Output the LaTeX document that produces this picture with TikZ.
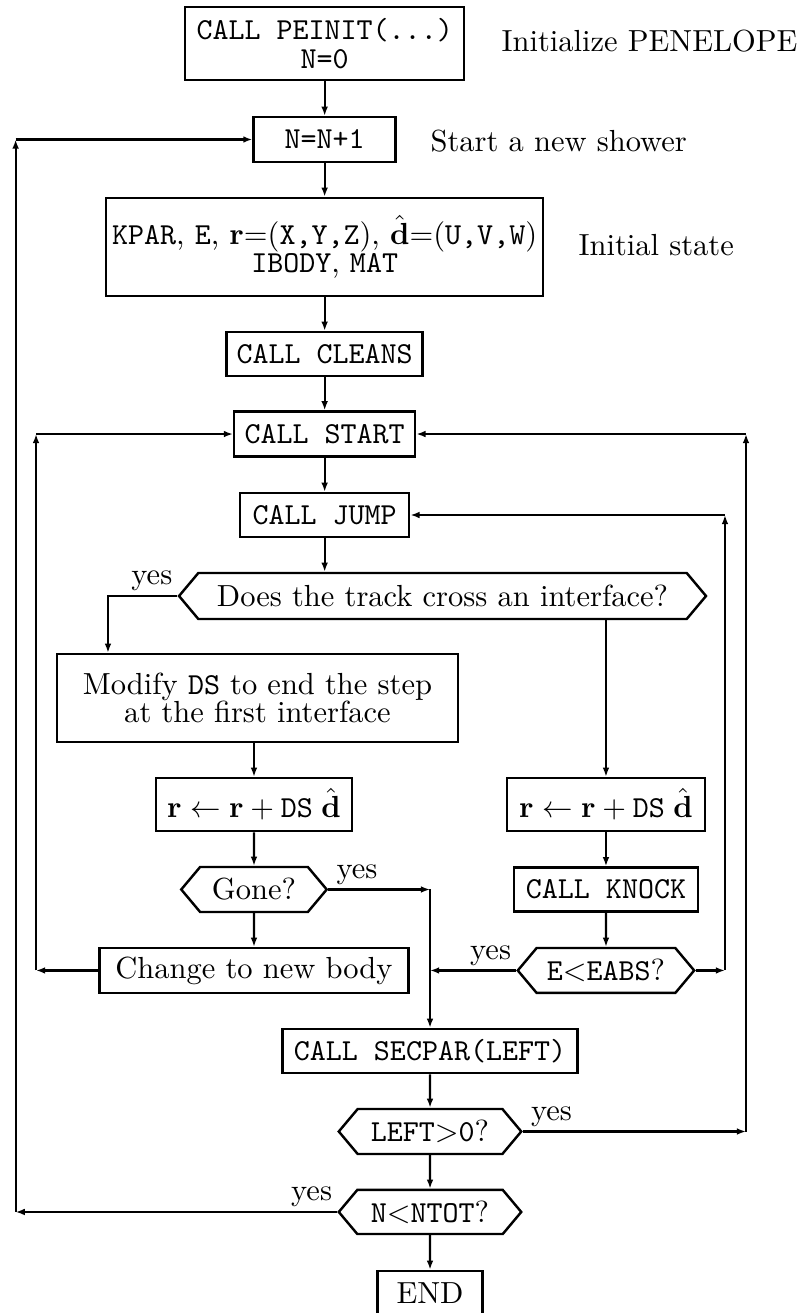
\documentclass[tikz,border=0pt]{standalone}
\usepackage{tikz}
\usetikzlibrary{positioning,shapes.symbols,arrows.meta}

\tikzset{
  box/.style={draw, line width=0.8pt, inner xsep=2pt, inner ysep=1pt, align=center},
  query/.style={draw, line width=0.8pt, signal, signal to=west and east, signal pointer angle=100,
    inner xsep=1pt, inner ysep=1pt, align=center},
  flow/.style={-{Latex[length=3pt,width=2.2pt]}, line width=0.7pt},
  yes/.style={inner sep=1.5pt},
  note/.style={anchor=base west, inner sep=0pt}
}

\begin{document}
\begin{tikzpicture}[every node/.style={font=\fontsize{10}{9.3}\selectfont}]
    \useasboundingbox (0,0) rectangle (9.331,-15.126);

    % main column
    \node[box, minimum width=3.214cm, minimum height=0.841cm] (peinit) at (3.74,-0.501)
        {\texttt{CALL PEINIT(...)}\\\texttt{N=0}};
    \node[note] (initnote) at (5.772,-0.596) {Initialize PENELOPE};
    \node[box, minimum width=1.636cm, minimum height=0.518cm] (newn) at (3.74,-1.607) {\texttt{N=N+1}};
    \node[note] (shownote) at (4.954,-1.747) {Start a new shower};
    \node[box, minimum width=5.023cm, minimum height=1.129cm] (state) at (3.74,-2.845)
        {\texttt{KPAR}, \texttt{E}, $\mathbf{r}{=}($\texttt{X,Y,Z}$)$, $\hat{\mathbf{d}}{=}($\texttt{U,V,W}$)$\\\texttt{IBODY}, \texttt{MAT}};
    \node[note] (statenote) at (6.659,-2.938) {Initial state};
    \node[box, minimum width=2.258cm, minimum height=0.507cm] (cleans) at (3.74,-4.078) {\texttt{CALL CLEANS}};
    \node[box, minimum width=2.085cm, minimum height=0.518cm] (start) at (3.74,-5.000) {\texttt{CALL START}};
    \node[box, minimum width=1.947cm, minimum height=0.507cm] (jump) at (3.74,-5.933) {\texttt{CALL JUMP}};
    \node[query, minimum width=6.071cm, minimum height=0.530cm] (cross) at (5.098,-6.866)
        {Does the track cross an interface?};

    % crossing branch
    \node[box, minimum width=4.620cm, minimum height=1.014cm] (modify) at (2.966,-8.041)
        {Modify \texttt{DS} to end the step\\at the first interface};
    \node[box, minimum width=2.258cm, minimum height=0.611cm] (movel) at (2.926,-9.268)
        {$\mathbf{r}\leftarrow\mathbf{r}+\texttt{DS}\;\hat{\mathbf{d}}$};
    \node[query, minimum width=1.676cm, minimum height=0.518cm] (gone) at (2.926,-10.247) {Gone?};
    \node[box, minimum width=3.555cm, minimum height=0.518cm] (change) at (2.926,-11.180) {Change to new body};

    % free flight branch
    \node[box, minimum width=2.281cm, minimum height=0.611cm] (mover) at (6.981,-9.268)
        {$\mathbf{r}\leftarrow\mathbf{r}+\texttt{DS}\;\hat{\mathbf{d}}$};
    \node[box, minimum width=2.120cm, minimum height=0.507cm] (knock) at (6.981,-10.247) {\texttt{CALL KNOCK}};
    \node[query, minimum width=2.032cm, minimum height=0.518cm] (eabs) at (6.981,-11.180)
        {\texttt{E}$<$\texttt{EABS}?};

    % secondaries and end
    \node[box, minimum width=3.398cm, minimum height=0.507cm] (secpar) at (4.954,-12.108) {\texttt{CALL SECPAR(LEFT)}};
    \node[query, minimum width=2.102cm, minimum height=0.518cm] (leftq) at (4.954,-13.035)
        {\texttt{LEFT}$>$\texttt{0}?};
    \node[query, minimum width=2.102cm, minimum height=0.507cm] (ntot) at (4.954,-13.962)
        {\texttt{N}$<$\texttt{NTOT}?};
    \node[box, minimum width=1.210cm, minimum height=0.507cm] (finish) at (4.954,-14.895) {END};

    % loop corners
    \coordinate (outl) at (0.180,0);
    \coordinate (innl) at (0.415,0);
    \coordinate (innr) at (8.352,0);
    \coordinate (outr) at (8.594,0);
    \coordinate (yesx) at (1.244,0);
    \coordinate (merge) at (secpar.north |- gone.east);

    % straight flow
    \draw[flow] (peinit) -- (newn);
    \draw[flow] (newn) -- (state);
    \draw[flow] (state) -- (cleans);
    \draw[flow] (cleans) -- (start);
    \draw[flow] (start) -- (jump);
    \draw[flow] (jump.south) -- (jump.south |- cross.north);
    \draw[flow] (cross.west) -| (yesx |- modify.north);
    \draw[flow] (movel.north |- modify.south) -- (movel.north);
    \draw[flow] (movel) -- (gone);
    \draw[flow] (gone) -- (change);
    \draw[flow] (mover.north |- cross.south) -- (mover.north);
    \draw[flow] (mover) -- (knock);
    \draw[flow] (knock) -- (eabs);
    \draw[flow] (gone.east) -- (merge);
    \draw[flow] (merge) -- (secpar.north);
    \draw[flow] (eabs.west) -- (eabs.west -| merge);
    \draw[flow] (secpar) -- (leftq);
    \draw[flow] (leftq) -- (ntot);
    \draw[flow] (ntot) -- (finish);

    % loops
    \draw[flow] (change.west) -- (change.west -| innl);
    \draw[flow] (change.west -| innl) -- (start.west -| innl);
    \draw[flow] (start.west -| innl) -- (start.west);
    \draw[flow] (eabs.east) -- (eabs.east -| innr);
    \draw[flow] (eabs.east -| innr) -- (jump.east -| innr);
    \draw[flow] (jump.east -| innr) -- (jump.east);
    \draw[flow] (leftq.east) -- (leftq.east -| outr);
    \draw[flow] (leftq.east -| outr) -- (start.east -| outr);
    \draw[flow] (start.east -| outr) -- (start.east);
    \draw[flow] (ntot.west) -- (ntot.west -| outl);
    \draw[flow] (ntot.west -| outl) -- (newn.west -| outl);
    \draw[flow] (newn.west -| outl) -- (newn.west);

    % yes labels
    \node[yes, anchor=south east] (yescross) at (cross.west) {yes};
    \node[yes, anchor=south west, xshift=1pt] (yesgone) at (gone.east) {yes};
    \node[yes, anchor=south east] (yeseabs) at (eabs.west) {yes};
    \node[yes, anchor=south west, xshift=1pt] (yesleft) at (leftq.east) {yes};
    \node[yes, anchor=south east] (yesntot) at (ntot.west) {yes};
\end{tikzpicture}
\end{document}
